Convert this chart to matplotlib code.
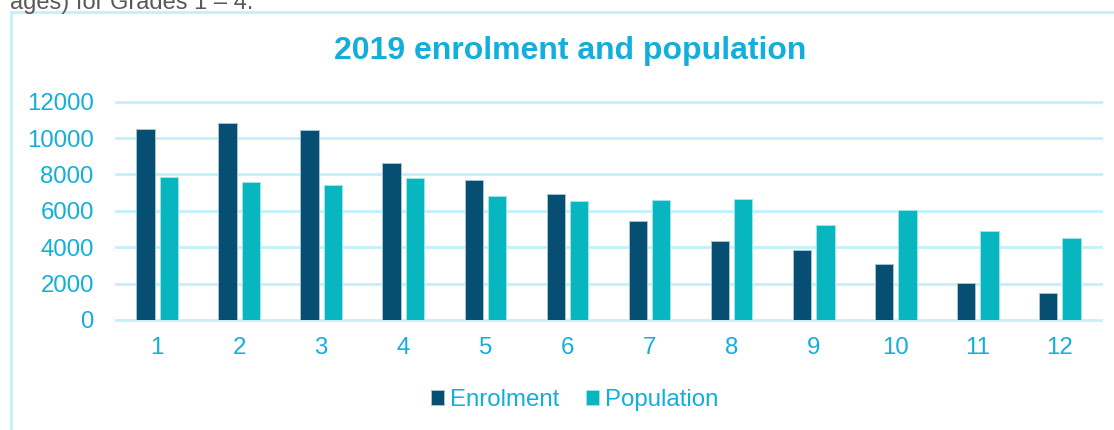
import numpy as np
import matplotlib
matplotlib.use("Agg")
import matplotlib.pyplot as plt
from matplotlib.patches import Rectangle

grades = ["1", "2", "3", "4", "5", "6", "7", "8", "9", "10", "11", "12"]
enrolment = [10480, 10810, 10460, 8630, 7700, 6930, 5430, 4340, 3830, 3080, 2020, 1480]
population = [7880, 7570, 7420, 7820, 6830, 6540, 6580, 6650, 5220, 6050, 4890, 4510]
y_ticks = [0, 2000, 4000, 6000, 8000, 10000, 12000]

ENROL_COLOR = "#064f73"
POP_COLOR = "#07b6bf"
TEXT_COLOR = "#12aedc"
GRID_COLOR = "#c3f0fb"

plt.rcParams["font.family"] = ["Liberation Sans", "DejaVu Sans"]

W, H, DPI = 1114, 430, 100
fig = plt.figure(figsize=(W / DPI, H / DPI), dpi=DPI)
fig.patch.set_facecolor("white")

# surrounding document text, cut off at the top edge
fig.text(10 / W, 1 - 9.5 / H, "ages) for Grades 1 \u2013 4.", color="#595959",
         fontsize=17, ha="left", va="baseline")

# chart frame (runs past the right and bottom edges)
fig.add_artist(Rectangle((11 / W, -0.2), 1.2, 1 - 12 / H + 0.2,
                         transform=fig.transFigure, fill=False,
                         edgecolor=GRID_COLOR, linewidth=2))

ax = fig.add_axes([116 / W, 1 - 320 / H, (1101 - 116) / W, (320 - 101.7) / H])

x = np.arange(len(grades))
bw, gap = 0.223, 0.061
off = (bw + gap) / 2
ax.bar(x - off, enrolment, width=bw, color=ENROL_COLOR, edgecolor="#a3c4d4",
       linewidth=0.7, label="Enrolment", zorder=3)
ax.bar(x + off, population, width=bw, color=POP_COLOR, edgecolor="#9ae6ea",
       linewidth=0.7, label="Population", zorder=3)

ax.set_xlim(-0.5, len(grades) - 0.5)
ax.set_ylim(0, 12000)
ax.set_yticks(y_ticks)
ax.set_xticks(x)
ax.set_xticklabels(grades)
for yv in y_ticks:
    ax.axhline(yv, color=GRID_COLOR, linewidth=2, zorder=1, clip_on=False)

for s in ax.spines.values():
    s.set_visible(False)
ax.tick_params(axis="both", length=0, colors=TEXT_COLOR, labelsize=17.3)
ax.tick_params(axis="y", pad=16)
ax.tick_params(axis="x", pad=12)

fig.text(570 / W, 1 - 51 / H, "2019 enrolment and population", color=TEXT_COLOR,
         fontsize=23, fontweight="bold", ha="center", va="center")

leg = fig.legend(loc="center", bbox_to_anchor=(575 / W, 1 - 400 / H), ncol=2,
                 frameon=False, fontsize=17.3, handlelength=0.55, handleheight=0.55,
                 handletextpad=0.25, columnspacing=1.1)
for t in leg.get_texts():
    t.set_color(TEXT_COLOR)

fig.savefig("out.png", dpi=DPI, facecolor="white")
